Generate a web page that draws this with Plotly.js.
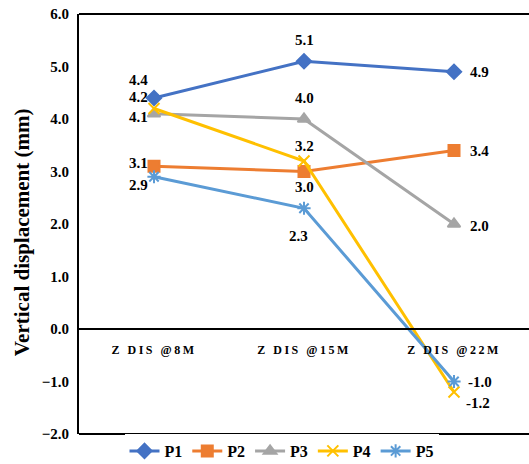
<!DOCTYPE html>
<html>
<head>
<meta charset="utf-8">
<script src="https://cdn.plot.ly/plotly-3.0.1.min.js"></script>
<style>
  body { margin: 0; background: #fff; }
  #chart { width: 529px; height: 464px; }
  .xtick text { letter-spacing: 2.5px; }
</style>
</head>
<body>
<div id="chart"></div>
<script>
    // --- DATA ---
    const categories = ['Z DIS @8M', 'Z DIS @15M', 'Z DIS @22M'];
    const p1 = [4.4, 5.1, 4.9];
    const p2 = [3.1, 3.0, 3.4];
    const p3 = [4.1, 4.0, 2.0];
    const p4 = [4.2, 3.2, -1.2];
    const p5 = [2.9, 2.3, -1.0];
    const yTicks = [-2, -1, 0, 1, 2, 3, 4, 5, 6];

    const serif = '"Times New Roman", "Liberation Serif", Times, serif';

    // --- STYLE PER SERIES: colour, symbol, label offsets [xanchor, xshift, yshift] ---
    const seriesList = [
        { name: 'P1', y: p1, color: '#4472C4', symbol: 'diamond',
          labels: [['right', -4, 18], ['center', 0, 21], ['left', 14, 0]] },
        { name: 'P2', y: p2, color: '#ED7D31', symbol: 'square',
          labels: [['right', -4, 3], ['center', 0, -15], ['left', 14, 0]] },
        { name: 'P3', y: p3, color: '#A5A5A5', symbol: 'triangle-up',
          labels: [['right', -4, -3], ['center', 0, 21], ['left', 14, -2]] },
        { name: 'P4', y: p4, color: '#FFC000', symbol: 'x-thin-open',
          labels: [['right', -4, 12], ['center', 0, 15], ['left', 10, -11]] },
        { name: 'P5', y: p5, color: '#5B9BD5', symbol: 'asterisk-open',
          labels: [['right', -4, -8], ['center', -6, -28], ['left', 12, 0]] }
    ];

    const traces = seriesList.map(function(s) {
        return {
            type: 'scatter',
            mode: 'lines+markers',
            name: s.name,
            x: categories,
            y: s.y,
            line: { color: s.color, width: 3 },
            marker: { symbol: s.symbol, size: 11, color: s.color, line: { color: s.color, width: 2 } },
            cliponaxis: false
        };
    });

    // data labels
    const annotations = [];
    seriesList.forEach(function(s) {
        s.y.forEach(function(v, i) {
            annotations.push({
                xref: 'x', yref: 'y',
                x: categories[i], y: v,
                text: v.toFixed(1),
                showarrow: false,
                xanchor: s.labels[i][0],
                yanchor: 'middle',
                xshift: s.labels[i][1],
                yshift: s.labels[i][2],
                font: { family: serif, size: 15, color: '#000', weight: 'bold' }
            });
        });
    });

    // y axis title, placed by hand like the original
    annotations.push({
        xref: 'paper', yref: 'paper',
        x: -0.125, y: 0.48,
        xanchor: 'center', yanchor: 'middle',
        textangle: -90,
        showarrow: false,
        text: 'Vertical displacement (mm)',
        font: { family: serif, size: 21, color: '#000', weight: 'bold' }
    });

    const layout = {
        width: 529,
        height: 464,
        margin: { l: 79, r: 0, t: 14, b: 30 },
        paper_bgcolor: '#fff',
        plot_bgcolor: '#fff',
        showlegend: true,
        legend: {
            orientation: 'h',
            x: 0.45, xanchor: 'center',
            yref: 'container',
            y: 0.028, yanchor: 'middle',
            font: { family: serif, size: 16, color: '#000', weight: 'bold' },
            itemwidth: 30,
            tracegroupgap: 0
        },
        xaxis: {
            type: 'category',
            anchor: 'free',
            position: 0.25,
            showline: true,
            linecolor: '#000',
            linewidth: 2,
            showgrid: false,
            ticks: '',
            ticklabelstandoff: 10,
            tickfont: { family: serif, size: 12, color: '#000', weight: 'bold' },
            range: [-0.5, 2.5]
        },
        yaxis: {
            range: [-2, 6],
            tickvals: yTicks,
            tickformat: '.1f',
            showgrid: false,
            zeroline: false,
            showline: true,
            linecolor: '#000',
            linewidth: 2,
            ticks: '',
            ticklabelstandoff: 5,
            tickfont: { family: serif, size: 15, color: '#000', weight: 'bold' }
        },
        annotations: annotations,
        shapes: [
            { type: 'line', xref: 'paper', yref: 'paper', x0: 0, x1: 1, y0: 1, y1: 1, line: { color: '#000', width: 2 } },
            { type: 'line', xref: 'paper', yref: 'paper', x0: 0, x1: 1, y0: 0, y1: 0, line: { color: '#000', width: 2 } }
        ]
    };

    Plotly.newPlot('chart', traces, layout, { displayModeBar: false, responsive: false });
</script>
</body>
</html>
